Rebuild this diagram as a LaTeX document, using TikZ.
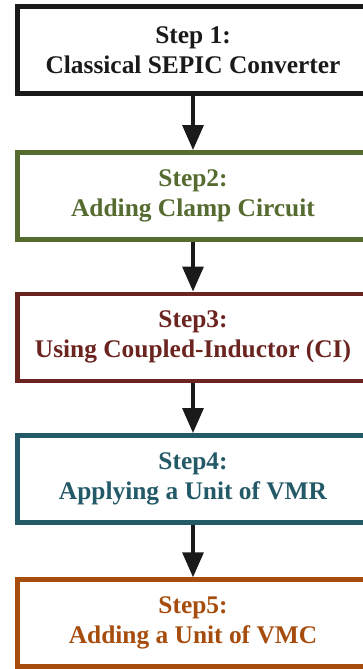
\documentclass[tikz,border=0pt]{standalone}
\usepackage{fontspec}
\setmainfont{Liberation Serif}
\usetikzlibrary{arrows.meta}
\definecolor{cblack}{HTML}{1A1A1A}
\definecolor{cgreen}{HTML}{556B2F}
\definecolor{cmaroon}{HTML}{6B2420}
\definecolor{cteal}{HTML}{245968}
\definecolor{corange}{HTML}{A64D0E}
\tikzset{
  stepbox/.style={draw=#1, text=#1, line width=4.5pt, rectangle, fill=white,
    minimum width=351pt, minimum height=87pt, inner sep=0pt, align=center,
    font=\fontsize{25.4}{30}\selectfont\bfseries},
  flowarrow/.style={draw=cblack, line width=3.3pt,
    -{Triangle[width=21pt,length=25pt]}}
}
\begin{document}
\begin{tikzpicture}[x=1pt,y=1pt]
\useasboundingbox (0,0) rectangle (363,-669);
\begin{scope}
\clip (0,0) rectangle (363,-669);
\node[stepbox=cblack]  (s1) at (193,-50)     {Step 1:\\Classical SEPIC Converter};
\node[stepbox=cgreen]  (s2) at (193,-195.75) {Step2:\\Adding Clamp Circuit};
\node[stepbox=cmaroon] (s3) at (193,-337.25) {Step3:\\Using Coupled-Inductor (CI)};
\node[stepbox=cteal]   (s4) at (193,-478.75) {Step4:\\Applying a Unit of VMR};
\node[stepbox=corange] (s5) at (193,-623)    {Step5:\\Adding a Unit of VMC};
\draw[flowarrow] (s1) -- (s2);
\draw[flowarrow] (s2) -- (s3);
\draw[flowarrow] (s3) -- (s4);
\draw[flowarrow] (s4) -- (s5);
\end{scope}
\end{tikzpicture}
\end{document}
